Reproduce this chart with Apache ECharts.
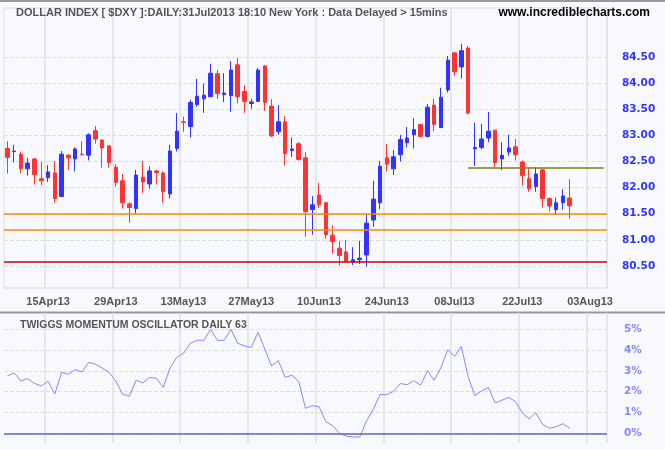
<!DOCTYPE html>
<html><head><meta charset="utf-8">
<script src="https://cdn.jsdelivr.net/npm/echarts@6/dist/echarts.min.js"></script>
<style>html,body{margin:0;padding:0;background:#f8f8ff}#c{width:665px;height:450px}</style>
</head><body><div id="c"></div>
<script>
// trading days 05Apr13 .. 07Aug13 (last 5 empty)
const startDate = new Date(Date.UTC(2013,3,5));
const categories = [];
for (let d = new Date(startDate); categories.length < 89; d.setUTCDate(d.getUTCDate()+1)) {
  const wd = d.getUTCDay(); if (wd === 0 || wd === 6) continue;
  categories.push(d.toISOString().slice(0,10));
}
const tickIndex = [6,16,26,36,46,56,66,76,86];
const tickLabels = ['15Apr13','29Apr13','13May13','27May13','10Jun13','24Jun13','08Jul13','22Jul13','03Aug13'];
const opens  = [82.75,82.69,82.64,82.36,82.55,82.17,82.19,82.28,81.83,82.62,82.55,82.64,82.62,83.09,82.91,82.80,82.39,82.13,81.69,81.60,82.20,82.07,82.32,82.28,81.88,82.75,83.26,83.17,83.59,83.70,
  83.74,84.18,83.78,83.76,84.35,83.84,83.61,83.65,84.33,83.56,83.07,83.26,82.71,82.84,82.57,81.58,81.86,81.71,81.09,80.84,80.77,80.58,80.62,80.71,81.38,81.71,82.57,82.36,
  82.63,82.86,83.01,83.21,82.98,83.58,83.15,83.87,84.58,84.31,84.67,82.74,82.77,82.95,83.10,82.55,82.68,82.78,82.49,82.17,82.02,82.34,81.79,81.58,81.71,81.80];
const closes = [82.58,82.70,82.36,82.47,82.25,82.13,82.30,81.79,82.64,82.57,82.74,82.63,83.01,82.93,82.76,82.48,82.10,81.71,81.62,82.24,82.11,82.32,82.29,81.92,82.70,83.08,83.25,83.63,83.75,83.77,
  84.19,83.80,83.81,84.25,83.74,83.65,83.64,84.25,83.63,82.99,83.26,82.65,82.74,82.54,81.54,81.67,81.67,81.10,80.97,80.70,80.59,80.62,80.65,81.32,81.78,82.41,82.45,82.59,
  82.92,82.95,83.11,82.98,83.54,83.21,83.73,84.44,84.22,84.62,83.43,82.77,82.93,83.08,82.48,82.62,82.76,82.63,82.23,81.98,82.26,81.79,81.65,81.71,81.84,81.65];
const lows   = [82.27,82.48,82.27,82.23,82.06,82.04,82.11,81.71,81.83,82.34,82.31,82.62,82.52,82.84,82.38,82.38,82.02,81.60,81.33,81.50,81.90,81.98,82.06,81.71,81.79,82.69,83.07,82.96,83.55,83.43,
  83.74,83.70,83.64,83.45,83.61,83.43,83.51,83.65,83.47,82.97,83.01,82.42,82.59,82.52,81.06,81.10,81.61,81.02,80.74,80.51,80.59,80.52,80.54,80.49,81.25,81.59,82.31,82.24,
  82.50,82.77,82.75,82.96,82.96,83.08,83.15,83.82,84.14,84.09,83.40,82.41,82.73,82.87,82.38,82.34,82.61,82.52,82.04,81.92,81.92,81.62,81.54,81.48,81.58,81.41];
const highs  = [82.89,82.82,82.69,82.57,82.57,82.49,82.43,82.51,82.70,82.64,82.77,82.89,83.04,83.18,82.93,82.80,82.45,82.26,81.72,82.34,82.51,82.41,82.34,82.31,82.82,83.43,83.36,83.68,84.08,83.99,
  84.37,84.25,84.19,84.42,84.48,83.96,83.70,84.29,84.35,83.69,83.58,83.37,82.96,82.87,82.68,81.84,82.09,81.73,81.28,80.98,81.00,80.86,80.98,81.49,82.13,82.51,82.84,82.72,
  83.01,83.16,83.33,83.22,83.60,83.70,83.91,84.52,84.58,84.75,84.71,83.24,83.22,83.45,83.10,82.87,83.01,82.93,82.52,82.37,82.39,82.36,81.81,81.81,81.97,82.16];
const momentum = [2.76,2.90,2.52,2.63,2.40,2.28,2.50,1.89,2.93,2.84,3.06,2.95,3.41,3.32,3.14,2.92,2.52,1.88,1.79,2.55,2.42,2.69,2.64,2.21,3.13,3.65,3.85,4.33,4.47,4.47,
  5.00,4.47,4.47,5.00,4.33,4.20,4.13,4.86,4.04,3.24,3.49,2.69,2.79,2.50,1.20,1.33,1.28,0.56,0.37,0.00,-0.13,-0.18,-0.18,0.59,1.15,1.86,1.86,2.02,
  2.39,2.34,2.53,2.31,3.01,2.55,3.17,4.02,3.70,4.17,2.72,1.81,2.04,2.20,1.46,1.59,1.73,1.52,0.99,0.69,0.99,0.43,0.24,0.32,0.46,0.24];
const levels = [81.50, 81.19];
const supportLevel = 80.58;
const resistLevel = 82.38, resistStart = 68;

const candleData = opens.map((o,i)=>[o, closes[i], lows[i], highs[i]]);
const font = 'Liberation Sans';
const gridLine = {show:true, lineStyle:{color:'#dddddd', type:'dashed', width:1}};
const catAxis = (gi, extra) => Object.assign({type:'category', data:categories, gridIndex:gi, boundaryGap:true,
  axisLine:{show:false}, axisTick:{show:false}, axisLabel:{show:false}, splitLine:{show:false}}, extra||{});
const chart = echarts.init(document.getElementById('c'));
chart.setOption({
  backgroundColor:'#f8f8ff', animation:false,
  title:[
    {text:'DOLLAR INDEX [ $DXY ]:DAILY:31Jul2013 18:10 New York : Data Delayed > 15mins', left:11, top:2,
     textStyle:{fontFamily:"'Liberation Sans Narrow', 'Liberation Sans'", fontSize:11, fontWeight:'bold', color:'#555555'}},
    {text:'www.incrediblecharts.com', right:10, top:2, textStyle:{fontFamily:font, fontSize:12, fontWeight:'bold', color:'#000000'}},
    {text:'TWIGGS MOMENTUM OSCILLATOR DAILY 63', left:15, top:315,
     textStyle:{fontFamily:font, fontSize:10.5, fontWeight:'bold', color:'#555555'}}
  ],
  grid:[
    {left:4, right:58, top:8, height:280, show:true, borderColor:'#dddddd', borderWidth:1, backgroundColor:'transparent'},
    {left:4, right:58, top:57, height:209},
    {left:4, right:58, top:313, height:130},
    {left:4, right:58, top:329.3, height:104}
  ],
  xAxis:[
    catAxis(0,{splitLine:{show:true, interval:(i)=>tickIndex.includes(i), lineStyle:{color:'#e2e2e2', width:1.5}},
      axisLabel:{show:true, interval:(i)=>tickIndex.includes(i), formatter:(v,i)=>tickLabels[tickIndex.indexOf(i)],
        margin:8, fontFamily:font, fontSize:11, fontWeight:'bold', color:'#555555'}}),
    catAxis(1),
    catAxis(2,{splitLine:{show:true, interval:(i)=>tickIndex.includes(i), lineStyle:{color:'#e2e2e2', width:1.5}}}),
    catAxis(3)
  ],
  yAxis:[
    {type:'value', gridIndex:0, show:false, min:0, max:1},
    {type:'value', gridIndex:1, position:'right', min:80.5, max:84.5, interval:0.5,
     axisLine:{show:false}, axisTick:{show:false}, splitLine:gridLine,
     axisLabel:{margin:15, fontFamily:'DejaVu Sans', fontSize:10.5, fontWeight:'bold', color:'#3333ff', formatter:(v)=>v.toFixed(2)}},
    {type:'value', gridIndex:2, show:false, min:0, max:1},
    {type:'value', gridIndex:3, position:'right', min:0, max:5, interval:1,
     axisLine:{show:false}, axisTick:{show:false}, splitLine:gridLine,
     axisLabel:{margin:17, fontFamily:'DejaVu Sans', fontSize:10.5, fontWeight:'bold', color:'#8888ff', formatter:(v)=>v+'%'}}
  ],
  series:[
    {type:'candlestick', xAxisIndex:1, yAxisIndex:1, data:candleData, barWidth:4, clip:false,
     itemStyle:{color:'#3333ff', color0:'#ff3333', borderColor:'#3333ff', borderColor0:'#ff3333', borderWidth:1},
     markLine:{symbol:'none', silent:true, label:{show:false},
       data:[
         {yAxis:levels[0], lineStyle:{color:'#ff8800', width:1.5, type:'solid'}},
         {yAxis:levels[1], lineStyle:{color:'#ff8800', width:1.5, type:'solid'}},
         {yAxis:supportLevel, lineStyle:{color:'#cc0000', width:1.5, type:'solid'}},
         [{coord:[resistStart, resistLevel], lineStyle:{color:'#808000', width:1.5, type:'solid'}},
          {coord:[categories.length-1, resistLevel]}]
       ]}},
    {type:'line', xAxisIndex:3, yAxisIndex:3, data:momentum, symbol:'none', clip:false,
     lineStyle:{color:'#8888ff', width:1},
     markLine:{symbol:'none', silent:true, label:{show:false}, data:[{yAxis:0, lineStyle:{color:'#6666bb', width:1.5, type:'solid'}}]}}
  ],
  graphic:[
    {type:'line', shape:{x1:0,y1:1,x2:665,y2:1}, style:{stroke:'#999999', lineWidth:2}},
    {type:'line', shape:{x1:0,y1:312.5,x2:665,y2:312.5}, style:{stroke:'#999999', lineWidth:2}}
  ]
});
</script></body></html>
